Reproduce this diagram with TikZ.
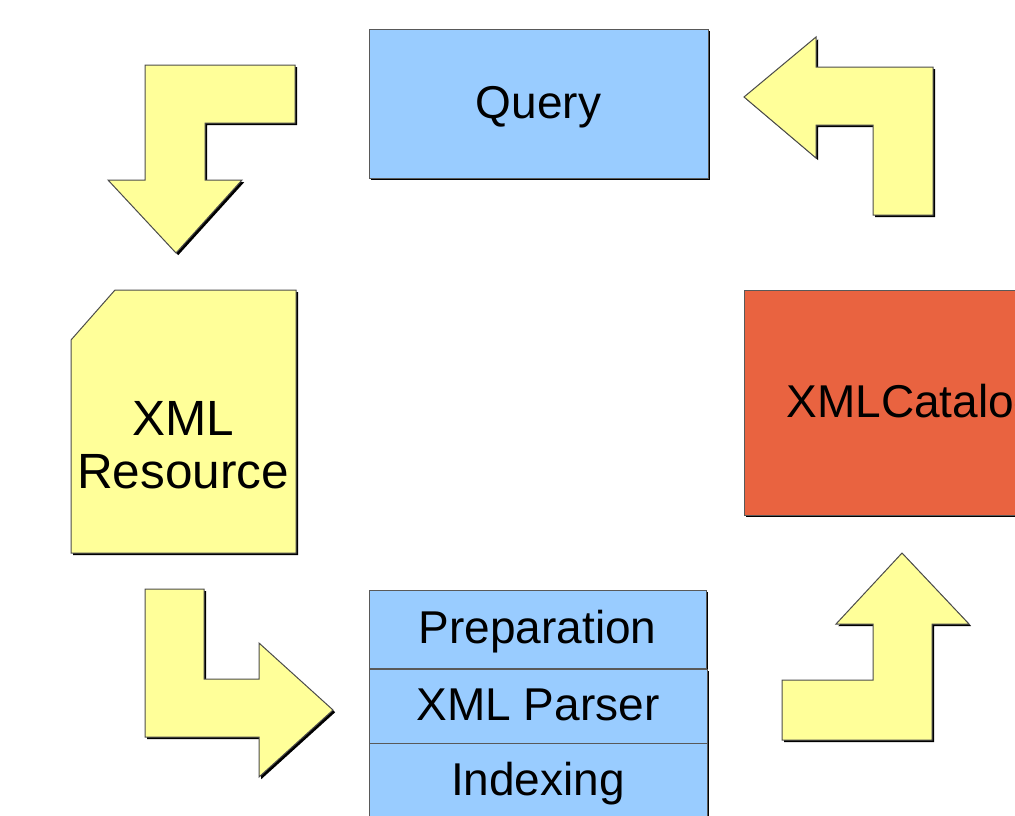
\documentclass[tikz,border=0pt]{standalone}
\usepackage{fontspec}
\setmainfont{Liberation Sans}
\usetikzlibrary{shadows}

\definecolor{boxblue}{HTML}{99CCFF}
\definecolor{arrowyellow}{HTML}{FFFF99}
\definecolor{catalogred}{HTML}{E96340}

\tikzset{
  edgeshadow/.style={drop shadow={shadow xshift=1.1pt,shadow yshift=-1.1pt,opacity=1,fill=black}},
  block/.style={rectangle,draw=black!65,line width=0.5pt,fill=boxblue,edgeshadow,inner sep=0pt,
    text height=18.9pt,text depth=4.1pt,font=\fontsize{23}{27}\selectfont},
  turn/.style={draw=black!70,line width=0.5pt,fill=arrowyellow,edgeshadow,line join=miter}
}

\begin{document}
\begin{tikzpicture}[x=0.5pt,y=-0.5pt]
          \path[use as bounding box,clip] (0,0) rectangle (1015,815);
          \node[block,minimum width=169.5pt,minimum height=74.5pt] (query) at (538.5,103.5) {Query};
          \draw[turn] (145,65) -- (295,65) -- (295,123) -- (205,123) -- (205,180) -- (242,180) -- (176,253) -- (108,180) -- (145,180) -- cycle;
          \draw[turn] (744,97) -- (816,37) -- (816,67) -- (933,67) -- (933,215) -- (873,215) -- (873,125) -- (816,125) -- (816,158) -- cycle;
          \draw[turn] (71,340) -- (115,290) -- (296,290) -- (296,553) -- (71,553) -- cycle;
          \node[align=center,inner sep=0pt,font=\fontsize{24.75}{26.5}\selectfont] (resource) at (183,445) {XML\\Resource};
          \node[block,fill=catalogred,minimum width=169pt,minimum height=112.5pt] (catalog) at (913,402.5) {XMLCatalog};
          \draw[turn] (145,589) -- (204,589) -- (204,679) -- (259,679) -- (259,643) -- (333,710) -- (259,777) -- (259,737) -- (145,737) -- cycle;
          \node[block,minimum width=168.5pt,minimum height=39pt] (prep) at (537.5,629) {Preparation};
          \node[block,minimum width=169pt,minimum height=37pt] (parser) at (538,706) {XML Parser};
          \node[block,minimum width=169pt,minimum height=38pt] (indexing) at (538,781) {Indexing};
          \draw[turn] (902,553) -- (969,624) -- (932,624) -- (932,740) -- (782,740) -- (782,680) -- (873,680) -- (873,624) -- (836,624) -- cycle;
        \end{tikzpicture}
\end{document}
